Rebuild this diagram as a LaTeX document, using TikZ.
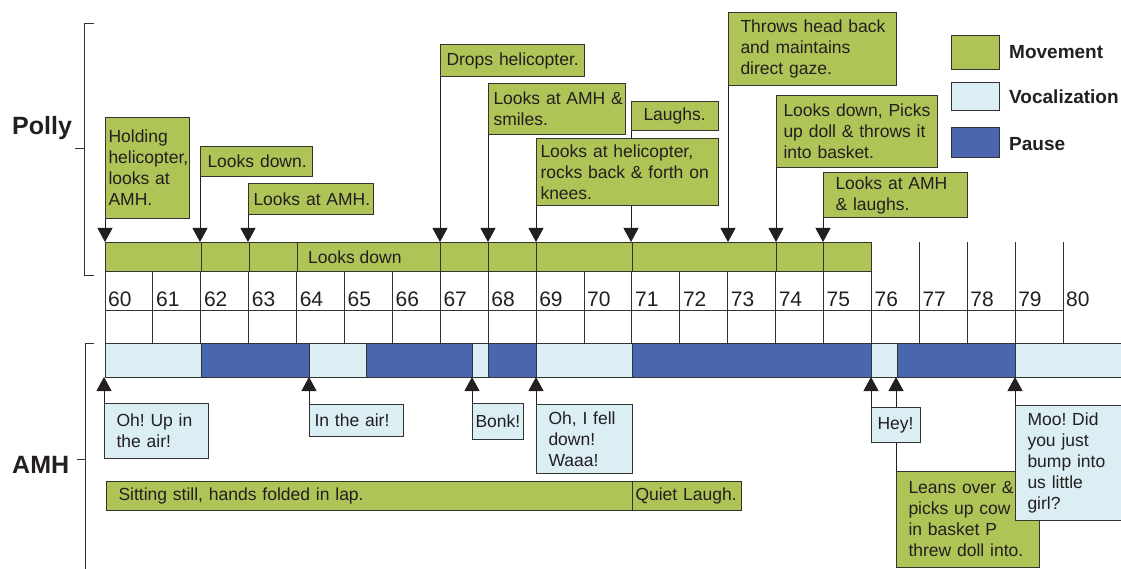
\documentclass[tikz,border=0pt]{standalone}
\usepackage{fontspec}
\setmainfont{Liberation Sans}
\usetikzlibrary{arrows.meta}
\hyphenpenalty=10000
\exhyphenpenalty=10000
\frenchspacing

\definecolor{mv}{HTML}{AFC456}
\definecolor{vc}{HTML}{DAEEF3}
\definecolor{ps}{HTML}{4A66AE}
\definecolor{ink}{HTML}{231F20}
\definecolor{edge}{HTML}{333333}

\pgfdeclarelayer{links}
\pgfsetlayers{links,main}

\tikzset{
  boxtext/.style={font=\fontsize{17.5}{21}\selectfont, text=ink},
  mvbox/.style={draw=edge, line width=1pt, fill=mv, boxtext},
  vcbox/.style={draw=edge, line width=1pt, fill=vc, boxtext},
  psbox/.style={draw=edge, line width=1pt, fill=ps},
  link/.style={draw=ink, line width=1pt, -{Triangle[width=15pt,length=14pt]}},
  rule/.style={draw=edge, line width=1pt},
  who/.style={anchor=base west, inner sep=0pt, text=ink, font=\fontsize{25}{30}\selectfont\bfseries},
  keytext/.style={anchor=base west, inner sep=0pt, text=ink, font=\fontsize{19}{23}\selectfont\bfseries},
  tick/.style={anchor=base west, inner sep=0pt, text=ink, font=\fontsize{21}{25}\selectfont}
}

% name, style, x, y, width, height, left inset, text
\newcommand\tbox[8]{%
  \node[#2, anchor=north west, minimum width=#5pt, minimum height=#6pt,
        text width=#5pt, inner xsep=0pt, inner ysep=0pt, align=left]
        (#1) at (#3,#4) {\leftskip=#7pt\relax #8\par};}

\begin{document}
\begin{tikzpicture}[x=1pt,y=-1pt]
\useasboundingbox (0,0) rectangle (1121,569);

% ---- time scale -------------------------------------------------------
\foreach \k in {0,...,20} {
  \pgfmathsetmacro\x{105+47.9*\k}
  \ifnum\k<16
    \draw[rule] (\x,271) -- (\x,343);
  \else
    \draw[rule] (\x,242) -- (\x,343);
  \fi
  \pgfmathtruncatemacro\sec{60+\k}
  \node[tick] (t\k) at (\x+3,306) {\sec};
}
\draw[rule] (105,310) -- (1063,310);

% ---- Polly: movement track ---------------------------------------------
\node[mvbox, anchor=north west, minimum width=766pt, minimum height=29pt, inner sep=0pt] (pbar) at (105,242) {};
\foreach \x in {201,249,297,440,488,536,632,776,823}
  \draw[rule] (\x,242) -- (\x,271);
\node[boxtext, anchor=base west, inner sep=0pt] (pLong) at (308,264) {Looks down};

\tbox{pHold}{mvbox}{105}{117}{84}{101}{3}{Holding\\helicopter,\\looks at\\AMH.}
\tbox{pDown}{mvbox}{200}{146}{112}{30}{7}{Looks down.}
\tbox{pAMH}{mvbox}{248}{183}{125}{31}{5}{Looks at AMH.}
\tbox{pDrop}{mvbox}{440}{44}{144}{32}{6}{Drops helicopter.}
\tbox{pSmile}{mvbox}{488}{83}{137}{51}{5}{Looks at AMH \&\\smiles.}
\tbox{pLaugh}{mvbox}{631}{101}{87}{29}{12}{Laughs.}
\tbox{pRock}{mvbox}{536}{138}{182}{67}{4}{Looks at helicopter,\\rocks back \& forth on\\knees.}
\tbox{pThrow}{mvbox}{728}{12}{168}{73}{12}{Throws head back\\and maintains\\direct gaze.}
\tbox{pDoll}{mvbox}{776}{95}{161}{72}{7}{Looks down, Picks\\up doll \& throws it\\into basket.}
\tbox{pLaughs}{mvbox}{823}{172}{144}{45}{12}{Looks at AMH\\\& laughs.}

\begin{pgfonlayer}{links}
\foreach \n in {pHold,pDown,pAMH,pDrop,pSmile,pLaugh,pRock,pThrow,pDoll,pLaughs}
  \draw[link] (\n.south west) -- (\n.south west |- pbar.north);
\end{pgfonlayer}

% ---- AMH: vocalization / pause track -------------------------------------
\foreach \a/\b/\c in {105/201/vc, 201/309/ps, 309/366/vc, 366/472/ps, 472/488/vc,
                      488/536/ps, 536/632/vc, 632/871/ps, 871/897/vc, 897/1015/ps, 1015/1130/vc}
  \draw[rule, fill=\c] (\a,343) rectangle (\b,377);
\node[anchor=north west, minimum width=1025pt, minimum height=34pt, inner sep=0pt, outer sep=0pt] (abar) at (105,343) {};

\tbox{aUp}{vcbox}{104}{403}{104}{55}{12}{Oh! Up in\\the air!}
\tbox{aAir}{vcbox}{309}{404}{94}{32}{5}{In the air!}
\tbox{aBonk}{vcbox}{472}{403}{51}{36}{3}{Bonk!}
\tbox{aFell}{vcbox}{536}{404}{96}{69}{12}{Oh, I fell\\down!\\Waaa!}
\tbox{aLean}{mvbox}{896}{471}{143}{96}{12}{Leans over \&\\picks up cow\\in basket P\\threw doll into.}
\tbox{aHey}{vcbox}{871}{407}{49}{35}{6}{Hey!}
\tbox{aMoo}{vcbox}{1015}{405}{112}{115}{12}{Moo! Did\\you just\\bump into\\us little\\girl?}

\tbox{aStill}{mvbox}{106}{481}{526}{29}{12}{Sitting still, hands folded in lap.}
\tbox{aQuiet}{mvbox}{632}{481}{109}{29}{3}{Quiet Laugh.}

\begin{pgfonlayer}{links}
\foreach \n in {aUp,aAir,aBonk,aFell,aHey,aLean,aMoo}
  \draw[link] (\n.north west) -- (\n.north west |- abar.south);
\end{pgfonlayer}

% ---- participant brackets ------------------------------------------------
\draw[rule] (94,24) -- (84,24) -- (84,275) -- (94,275);
\draw[rule] (84,149) -- (75,149);
\node[who] (polly) at (12,135) {Polly};

\draw[rule] (94,343) -- (85,343) -- (85,575);
\draw[rule] (85,459) -- (77,459);
\node[who] (amh) at (12,473) {AMH};

% ---- key -----------------------------------------------------------------
\node[mvbox, anchor=north west, minimum width=48pt, minimum height=34pt, inner sep=0pt] (kMov) at (951,35) {};
\node[vcbox, anchor=north west, minimum width=48pt, minimum height=28pt, inner sep=0pt] (kVoc) at (951,82) {};
\node[psbox, anchor=north west, minimum width=48pt, minimum height=30pt, inner sep=0pt] (kPau) at (951,127) {};
\node[keytext] (lMov) at (1009,59) {Movement};
\node[keytext] (lVoc) at (1009,104) {Vocalization};
\node[keytext] (lPau) at (1009,151) {Pause};
\end{tikzpicture}
\end{document}
